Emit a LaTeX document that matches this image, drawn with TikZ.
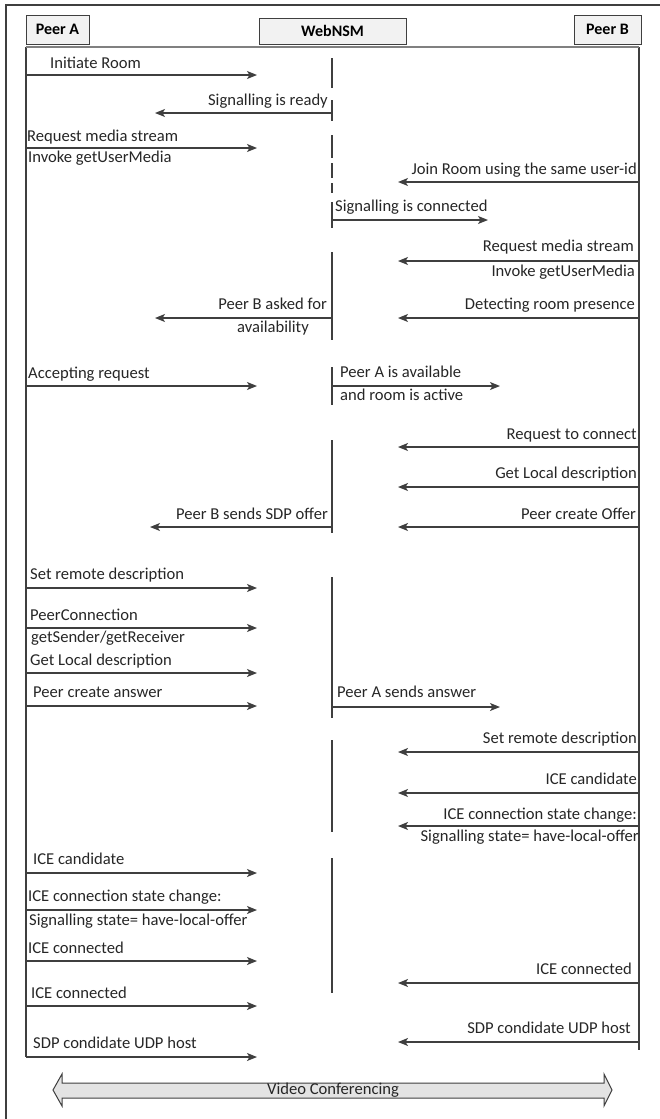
\documentclass[tikz,border=0pt]{standalone}
\usepackage{fontspec}
\setmainfont{Carlito}
\usetikzlibrary{arrows.meta}
\definecolor{linegray}{HTML}{3F3F3F}
\definecolor{boxfill}{HTML}{F2F2F2}
\definecolor{bandfill}{HTML}{E3E3E3}

\begin{document}
\begin{tikzpicture}[x=1pt,y=-1pt,
    msg/.style={draw=linegray, line width=1.3pt, -{Stealth[length=10pt,width=8pt,inset=2.5pt]}},
    life/.style={draw=linegray, line width=1.1pt},
    hdr/.style={draw=linegray, fill=boxfill, line width=0.9pt, font=\bfseries\fontsize{16}{18}\selectfont, inner sep=0pt},
    lbl/.style={font=\fontsize{16.6}{18}\selectfont, text=black!85, inner sep=0pt, text height=11pt, text depth=3.5pt}]
  \useasboundingbox (0,0) rectangle (660,1119);

  % outer frame and headers
  \draw[linegray, line width=1.5pt] (6,1119) -- (6,5) -- (660,5);
  \node[hdr, minimum width=63, minimum height=29] (pa) at (57.5,29.5) {Peer A};
  \node[hdr, minimum width=147, minimum height=26] (ws) at (332.5,31) {WebNSM};
  \node[hdr, minimum width=67, minimum height=29] (pb) at (607.5,29.5) {Peer B};

  % lifelines
  \coordinate (A0) at (26,47);
  \coordinate (A1) at (26,1057);
  \coordinate (B0) at (639,47);
  \coordinate (B1) at (639,1050);
  \draw[life] (A0) -- (A1);
  \draw[life] (B0) -- (B1);
  \draw[draw=black!50, line width=2.2pt] (A0) -- (B0);
  \draw[life] (332,58) -- (332,88);
  \draw[life] (332,100) -- (332,121);
  \draw[life] (332,135) -- (332,158);
  \draw[life] (332,163) -- (332,178);
  \draw[life] (332,183) -- (332,193);
  \draw[life] (332,202) -- (332,228);
  \draw[life] (332,252) -- (332,340);
  \draw[life] (332,367) -- (332,405);
  \draw[life] (332,440) -- (332,533);
  \draw[life] (332,577) -- (332,718);
  \draw[life] (332,740) -- (332,832);
  \draw[life] (332,858) -- (332,993);

  % message end points
  \coordinate (m1s) at (26,75);    \coordinate (m1e) at (257,75);
  \coordinate (m2s) at (332,113);  \coordinate (m2e) at (155,113);
  \coordinate (m3s) at (26,148);   \coordinate (m3e) at (257,148);
  \coordinate (m4s) at (639,182);  \coordinate (m4e) at (398,182);
  \coordinate (m5s) at (332,220);  \coordinate (m5e) at (488,220);
  \coordinate (m6s) at (639,261);  \coordinate (m6e) at (398,261);
  \coordinate (m7s) at (332,318);  \coordinate (m7e) at (155,318);
  \coordinate (m8s) at (639,318);  \coordinate (m8e) at (398,318);
  \coordinate (m9s) at (26,386);   \coordinate (m9e) at (257,386);
  \coordinate (m10s) at (332,386); \coordinate (m10e) at (500,386);
  \coordinate (m11s) at (639,447); \coordinate (m11e) at (398,447);
  \coordinate (m12s) at (639,487); \coordinate (m12e) at (398,487);
  \coordinate (m13s) at (639,527); \coordinate (m13e) at (398,527);
  \coordinate (m14s) at (332,527); \coordinate (m14e) at (150,527);
  \coordinate (m15s) at (26,588);  \coordinate (m15e) at (257,588);
  \coordinate (m16s) at (26,628);  \coordinate (m16e) at (257,628);
  \coordinate (m17s) at (26,673);  \coordinate (m17e) at (257,673);
  \coordinate (m18s) at (26,706);  \coordinate (m18e) at (257,706);
  \coordinate (m19s) at (332,707); \coordinate (m19e) at (500,707);
  \coordinate (m20s) at (639,752); \coordinate (m20e) at (398,752);
  \coordinate (m21s) at (639,793); \coordinate (m21e) at (398,793);
  \coordinate (m22s) at (639,826); \coordinate (m22e) at (398,826);
  \coordinate (m23s) at (26,873);  \coordinate (m23e) at (257,873);
  \coordinate (m24s) at (26,910);  \coordinate (m24e) at (257,910);
  \coordinate (m25s) at (26,961);  \coordinate (m25e) at (257,961);
  \coordinate (m26s) at (639,983); \coordinate (m26e) at (398,983);
  \coordinate (m27s) at (26,1006); \coordinate (m27e) at (257,1006);
  \coordinate (m28s) at (639,1042); \coordinate (m28e) at (398,1042);
  \coordinate (m29s) at (26,1057); \coordinate (m29e) at (257,1057);

  % messages
  \draw[msg] (m1s) -- (m1e);
  \draw[msg] (m2s) -- (m2e);
  \draw[msg] (m3s) -- (m3e);
  \draw[msg] (m4s) -- (m4e);
  \draw[msg] (m5s) -- (m5e);
  \draw[msg] (m6s) -- (m6e);
  \draw[msg] (m7s) -- (m7e);
  \draw[msg] (m8s) -- (m8e);
  \draw[msg] (m9s) -- (m9e);
  \draw[msg] (m10s) -- (m10e);
  \draw[msg] (m11s) -- (m11e);
  \draw[msg] (m12s) -- (m12e);
  \draw[msg] (m13s) -- (m13e);
  \draw[msg] (m14s) -- (m14e);
  \draw[msg] (m15s) -- (m15e);
  \draw[msg] (m16s) -- (m16e);
  \draw[msg] (m17s) -- (m17e);
  \draw[msg] (m18s) -- (m18e);
  \draw[msg] (m19s) -- (m19e);
  \draw[msg] (m20s) -- (m20e);
  \draw[msg] (m21s) -- (m21e);
  \draw[msg] (m22s) -- (m22e);
  \draw[msg] (m23s) -- (m23e);
  \draw[msg] (m24s) -- (m24e);
  \draw[msg] (m25s) -- (m25e);
  \draw[msg] (m26s) -- (m26e);
  \draw[msg] (m27s) -- (m27e);
  \draw[msg] (m28s) -- (m28e);
  \draw[msg] (m29s) -- (m29e);

  % labels
  \node[lbl, anchor=west] (t1) at (50,65) {Initiate Room};
  \node[lbl, anchor=east] (t2) at (328,102) {Signalling is ready};
  \node[lbl, anchor=west] (t3a) at (27,138) {Request media stream};
  \node[lbl, anchor=west] (t3b) at (28,159) {Invoke getUserMedia};
  \node[lbl, anchor=east] (t4) at (637,171) {Join Room using the same user-id};
  \node[lbl, anchor=west] (t5) at (335,208) {Signalling is connected};
  \node[lbl, anchor=east] (t6a) at (634,248) {Request media stream};
  \node[lbl, anchor=east] (t6b) at (635,273) {Invoke getUserMedia};
  \node[lbl, anchor=east] (t7a) at (327,306) {Peer B asked for};
  \node[lbl, anchor=east] (t7b) at (309,329) {availability};
  \node[lbl, anchor=east] (t8) at (635,306) {Detecting room presence};
  \node[lbl, anchor=west] (t9) at (28,375) {Accepting request};
  \node[lbl, anchor=west] (t10a) at (340,374) {Peer A is available};
  \node[lbl, anchor=west] (t10b) at (340,397) {and room is active};
  \node[lbl, anchor=east] (t11) at (637,436) {Request to connect};
  \node[lbl, anchor=east] (t12) at (637,475) {Get Local description};
  \node[lbl, anchor=east] (t13) at (636,516) {Peer create Offer};
  \node[lbl, anchor=east] (t14) at (328,516) {Peer B sends SDP offer};
  \node[lbl, anchor=west] (t15) at (30,576) {Set remote description};
  \node[lbl, anchor=west] (t16a) at (30,617) {PeerConnection};
  \node[lbl, anchor=west] (t16b) at (31,639) {getSender/getReceiver};
  \node[lbl, anchor=west] (t17) at (30,662) {Get Local description};
  \node[lbl, anchor=west] (t18) at (33,694) {Peer create answer};
  \node[lbl, anchor=west] (t19) at (337,694) {Peer A sends answer};
  \node[lbl, anchor=east] (t20) at (637,740) {Set remote description};
  \node[lbl, anchor=east] (t21) at (637,781) {ICE candidate};
  \node[lbl, anchor=east] (t22a) at (637,816) {ICE connection state change:};
  \node[lbl, anchor=east] (t22b) at (639,838) {Signalling state= have-local-offer};
  \node[lbl, anchor=west] (t23) at (33,861) {ICE candidate};
  \node[lbl, anchor=west] (t24a) at (28,898) {ICE connection state change:};
  \node[lbl, anchor=west] (t24b) at (29,922) {Signalling state= have-local-offer};
  \node[lbl, anchor=west] (t25) at (28,950) {ICE connected};
  \node[lbl, anchor=east] (t26) at (632,971) {ICE connected};
  \node[lbl, anchor=west] (t27) at (31,995) {ICE connected};
  \node[lbl, anchor=east] (t28) at (631,1030) {SDP condidate UDP host};
  \node[lbl, anchor=west] (t29) at (33,1045) {SDP condidate UDP host};

  % video conferencing band
  \draw[draw=linegray, fill=bandfill, line width=1pt]
    (53,1090) -- (62,1074) -- (62,1083) -- (604,1083) -- (604,1074) -- (612,1090)
    -- (604,1106) -- (604,1098) -- (62,1098) -- (62,1106) -- cycle;
  \node[lbl] (vc) at (333,1091) {Video Conferencing};
\end{tikzpicture}
\end{document}
